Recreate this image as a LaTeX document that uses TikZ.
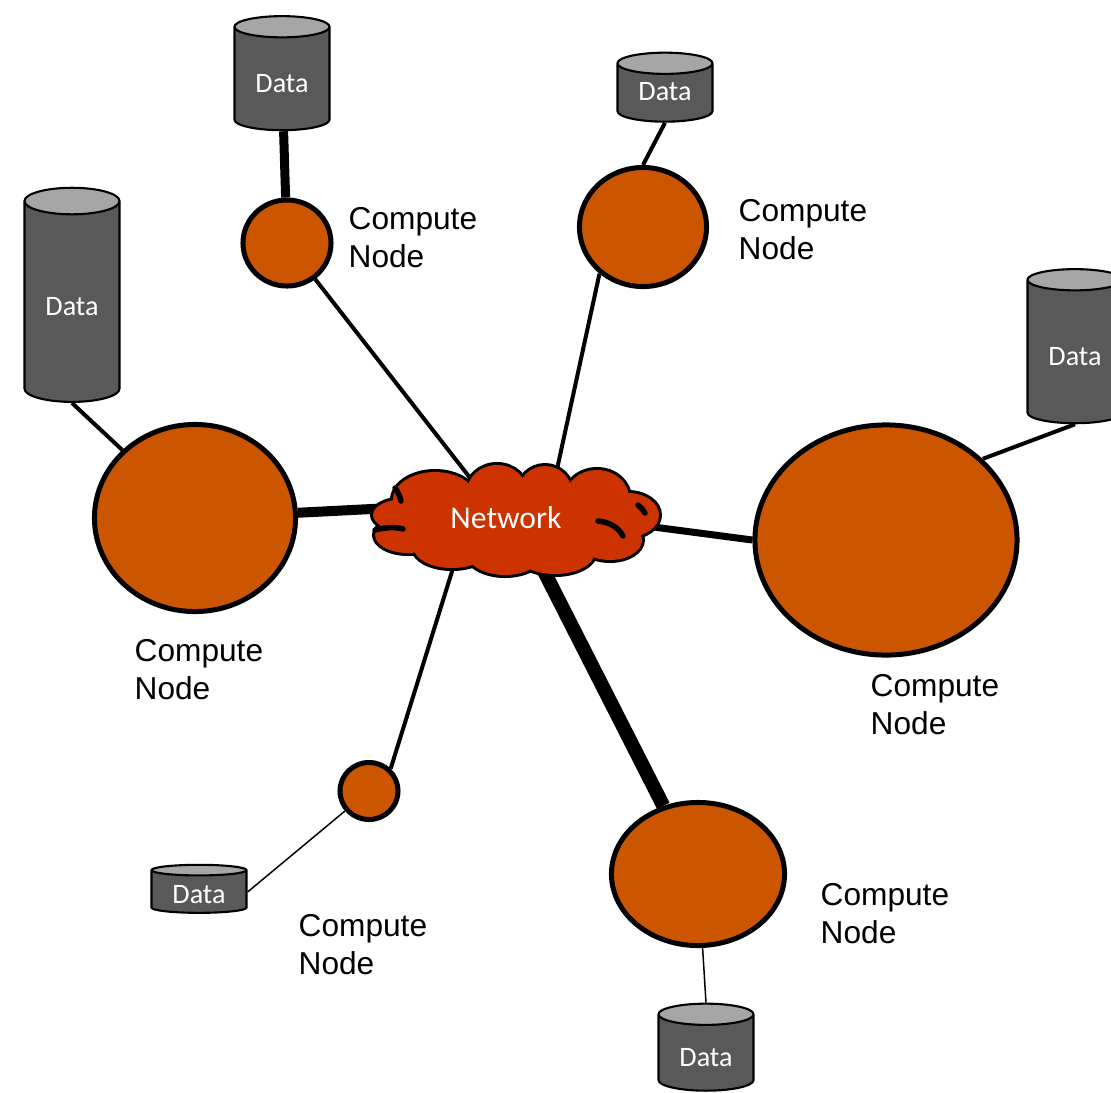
\documentclass[tikz,border=0pt]{standalone}
\usepackage{fontspec}
\setmainfont{Liberation Sans}
\newfontfamily\carlito{Carlito}
\usetikzlibrary{shapes.geometric,backgrounds}

\definecolor{nodeorange}{RGB}{204,85,0}
\definecolor{netred}{RGB}{204,51,0}
\definecolor{diskbody}{RGB}{89,89,89}
\definecolor{disktop}{RGB}{166,166,166}

\begin{document}
\begin{tikzpicture}[x=0.01cm,y=-0.01cm,
  compute/.style={ellipse, draw=black, line width=0.05cm, fill=nodeorange, inner sep=0pt},
  caption/.style={anchor=base west, align=left, inner sep=0pt,
    font=\fontsize{9}{10.7}\selectfont},
  disk/.style={cylinder, shape border rotate=90, draw=black, line width=0.6pt,
    cylinder uses custom fill, cylinder body fill=diskbody, cylinder end fill=disktop,
    minimum width=0.95cm, inner sep=0pt, text=white, text height=7.5pt,
    font=\carlito\fontsize{8}{9.6}\selectfont},
  hub/.style={ellipse, inner sep=0pt, minimum width=2.2cm, minimum height=0.8cm,
    text=white, font=\carlito\fontsize{9}{10.8}\selectfont},
  puff/.style={line width=0.06cm},
  crease/.style={line width=0.055cm, line cap=round},
  link/.style={draw=black, line cap=butt}
]
\useasboundingbox (0,0) rectangle (1111,1093);

% network cloud: outline of overlapping puffs, then their fill on top
\def\puffs{516/522/110/40, 435/500/42/28, 497/492/30/27, 545/493/27/27,
  597/498/32/28, 628/515/31/22, 610/540/32/20, 555/552/40/22, 505/553/38/22,
  452/548/38/20, 408/535/33/18, 405/515/32/16}
\foreach \cx/\cy/\rx/\ry in \puffs
  \draw[puff, draw=black] (\cx,\cy) ellipse [x radius=\rx, y radius=\ry];
\foreach \cx/\cy/\rx/\ry in \puffs
  \fill[netred] (\cx,\cy) ellipse [x radius=\rx, y radius=\ry];
% inner creases of the cloud
\draw[crease] (375,530) .. controls (386,527) and (396,527) .. (403,529);
\draw[crease] (395,488) .. controls (398,492) and (400,496) .. (401,501);
\draw[crease] (598,521) .. controls (609,522) and (618,527) .. (623,536);
\draw[crease] (638,505) .. controls (641,507) and (643,510) .. (645,513);

\node[hub] (net) at (506,518) {Network};

% compute nodes
\node[compute, minimum width=0.88cm, minimum height=0.86cm] (A) at (287,243) {};
\node[compute, minimum width=1.27cm, minimum height=1.19cm] (B) at (643,227) {};
\node[compute, minimum width=2.01cm, minimum height=1.87cm] (C) at (195,518) {};
\node[compute, minimum width=2.62cm, minimum height=2.30cm] (D) at (886,540) {};
\node[compute, minimum width=0.58cm, minimum height=0.57cm] (E) at (369,791) {};
\node[compute, minimum width=1.73cm, minimum height=1.43cm] (F) at (698,874) {};

% data stores
\node[disk, minimum height=1.14cm, aspect=0.4] (d1) at (282,79) {Data};
\node[disk, minimum height=0.69cm, aspect=0.4, text height=4.5pt] (d2) at (665,93) {Data};
\node[disk, minimum height=2.14cm, aspect=0.5] (d3) at (72,302) {Data};
\node[disk, minimum height=1.54cm, aspect=0.4] (d4) at (1075,352) {Data};
\node[disk, minimum height=0.48cm, aspect=0.2, text height=6.5pt] (d5) at (199,892) {Data};
\node[disk, minimum height=0.87cm, aspect=0.4] (d6) at (706,1053) {Data};

% captions (anchored at the baseline of the last line)
\node[caption] (cA) at (348,267) {Compute\\Node};
\node[caption] (cB) at (738,259) {Compute\\Node};
\node[caption] (cC) at (134,699) {Compute\\Node};
\node[caption] (cD) at (870,734) {Compute\\Node};
\node[caption] (cE) at (298,974) {Compute\\Node};
\node[caption] (cF) at (820,943) {Compute\\Node};

% connector ends inside the cloud
\coordinate (nA) at (499,515);
\coordinate (nB) at (546,520);
\coordinate (nC) at (450,505);
\coordinate (nD) at (600,520);
\coordinate (nE) at (468,520);
\coordinate (nF) at (518,520);

\begin{scope}[on background layer]
  % compute nodes to network
  \draw[link, line width=0.04cm] (A) -- (nA);
  \draw[link, line width=0.04cm] (B.-133) -- (nB);
  \draw[link, line width=0.10cm] (C) -- (nC);
  \draw[link, line width=0.07cm] (D.west) -- (nD);
  \draw[link, line width=0.04cm] (E.46) -- (nE);
  \draw[link, line width=0.14cm] (F) -- (nF);
  % data stores to compute nodes
  \draw[link, line width=0.09cm] (d1) -- (A);
  \draw[link, line width=0.04cm] (d2.south) -- (B.north);
  \draw[link, line width=0.04cm] (d3.south) -- (C);
  \draw[link, line width=0.04cm] (d4.south) -- (D.40);
  \draw[link, line width=0.015cm] (d5.east) -- (E);
  \draw[link, line width=0.015cm] (d6.north) -- (F);
\end{scope}
\end{tikzpicture}
\end{document}
